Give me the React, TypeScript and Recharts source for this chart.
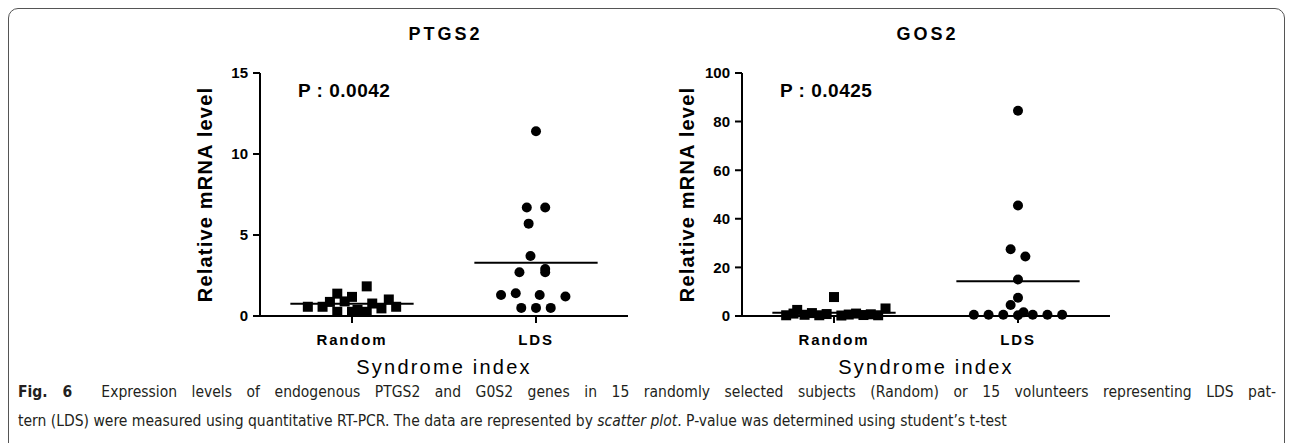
import React from "react"
import {
  ComposedChart,
  Scatter,
  Line,
  XAxis,
  YAxis,
} from "recharts"

// categories on the x axis
const groups = ["Random", "LDS"]

// PTGS2 values (relative mRNA level) and the scatter spread within each column
const ptgsRandom = [0.57, 0.57, 0.87, 1.38, 0.26, 0.9, 1.18, 0.26, 0.37, 1.83, 0.26, 0.77, 0.47, 1.02, 0.57]
const ptgsRandomSpread = [-0.24, -0.16, -0.12, -0.08, -0.08, -0.04, 0, 0, 0.03, 0.08, 0.08, 0.11, 0.16, 0.2, 0.24]
const ptgsLds = [11.4, 6.7, 6.7, 5.7, 3.7, 2.7, 2.9, 2.7, 1.4, 1.3, 1.3, 1.2, 0.5, 0.5, 0.5]
const ptgsLdsSpread = [0, -0.05, 0.05, -0.04, -0.03, -0.09, 0.05, 0.05, -0.11, -0.19, 0.02, 0.16, -0.08, 0, 0.08]
const ptgsTicks = [0, 5, 10, 15]

// GOS2 values
const gosRandom = [7.8, 3.1, 2.5, 0.3, 1.0, 0.5, 1.2, 0.3, 0.8, 0.2, 0.6, 1.0, 0.4, 0.7, 0.3]
const gosRandomSpread = [0, 0.28, -0.2, -0.26, -0.22, -0.16, -0.12, -0.08, -0.04, 0.04, 0.08, 0.12, 0.16, 0.2, 0.24]
const gosLds = [84.5, 45.5, 27.5, 24.5, 15, 7.5, 4.5, 1.5, 0.5, 0.5, 0.5, 0.3, 0.5, 0.5, 0.5]
const gosLdsSpread = [0, 0, -0.04, 0.04, 0, 0, -0.04, 0.03, -0.24, -0.16, -0.08, 0, 0.08, 0.16, 0.24]
const gosTicks = [0, 20, 40, 60, 80, 100]

const FONT = "'Liberation Sans', Arial, sans-serif"

type Pt = { x: number; y: number }

const toPoints = (vals: number[], spread: number[], group: number): Pt[] =>
  vals.map((v, i) => ({ x: group + 0.5 + spread[i], y: v }))

const meanLine = (vals: number[], group: number): Pt[] => {
  const m = vals.reduce((a, b) => a + b, 0) / vals.length
  return [
    { x: group + 0.5 - 0.335, y: m },
    { x: group + 0.5 + 0.335, y: m },
  ]
}

const SquareDot = (p: any) => (
  <rect x={p.cx - 5} y={p.cy - 5} width={10} height={10} fill="#000" />
)
const RoundDot = (p: any) => <circle cx={p.cx} cy={p.cy} r={5} fill="#000" />

type PanelProps = {
  left: number
  title: string
  pText: string
  ticks: number[]
  randomVals: number[]
  randomSpread: number[]
  ldsVals: number[]
  ldsSpread: number[]
}

function Panel({ left, title, pText, ticks, randomVals, randomSpread, ldsVals, ldsSpread }: PanelProps) {
  const yMax = ticks[ticks.length - 1]
  return (
    <div style={{ position: "absolute", left, top: 0, width: 500, height: 392 }}>
      <div
        style={{
          position: "absolute",
          left: 0,
          width: 573,
          top: 15,
          textAlign: "center",
          fontFamily: FONT,
          fontWeight: 700,
          fontSize: 18,
          letterSpacing: 3,
          color: "#000",
        }}
      >
        {title}
      </div>
      <div
        style={{
          position: "absolute",
          left: 139,
          top: 71,
          fontFamily: FONT,
          fontWeight: 700,
          fontSize: 19,
          letterSpacing: 0.5,
          color: "#000",
          whiteSpace: "nowrap",
        }}
      >
        {pText}
      </div>
      <div style={{ position: "absolute", left: 0, top: 12 }}>
        <ComposedChart width={500} height={380} margin={{ top: 52, right: 31, bottom: 0, left: 0 }}>
          <XAxis
            type="number"
            dataKey="x"
            domain={[0, 2]}
            ticks={[0.5, 1.5]}
            tickFormatter={(v: number) => groups[Math.floor(v)]}
            height={85}
            tickSize={7}
            tickMargin={11}
            axisLine={{ stroke: "#000", strokeWidth: 2 }}
            tickLine={{ stroke: "#000", strokeWidth: 2 }}
            tick={{ fill: "#000", fontSize: 15, fontWeight: 700, fontFamily: FONT, letterSpacing: 1.8 }}
            label={{
              content: (props: any) => {
                const vb = props.viewBox
                return (
                  <text
                    x={vb.x + vb.width / 2}
                    y={vb.y + 53}
                    textAnchor="middle"
                    dominantBaseline="middle"
                    fill="#000"
                    fontSize={20}
                    fontFamily={FONT}
                    letterSpacing={2.2}
                  >
                    Syndrome index
                  </text>
                )
              },
            }}
          />
          <YAxis
            type="number"
            dataKey="y"
            domain={[0, yMax]}
            ticks={ticks}
            width={101}
            tickSize={7}
            tickMargin={5}
            interval={0}
            axisLine={{ stroke: "#000", strokeWidth: 2 }}
            tickLine={{ stroke: "#000", strokeWidth: 2 }}
            tick={{ fill: "#000", fontSize: 15, fontWeight: 700, fontFamily: FONT }}
            label={{
              content: (props: any) => {
                const vb = props.viewBox
                const cx = vb.x + 48
                const cy = vb.y + vb.height / 2
                return (
                  <text
                    x={cx}
                    y={cy}
                    transform={`rotate(-90, ${cx}, ${cy})`}
                    textAnchor="middle"
                    dominantBaseline="middle"
                    fill="#000"
                    fontSize={20}
                    fontWeight={700}
                    fontFamily={FONT}
                    letterSpacing={1.2}
                  >
                    Relative mRNA level
                  </text>
                )
              },
            }}
          />
          <Scatter
            data={toPoints(randomVals, randomSpread, 0)}
            dataKey="y"
            shape={SquareDot}
            isAnimationActive={false}
          />
          <Scatter
            data={toPoints(ldsVals, ldsSpread, 1)}
            dataKey="y"
            shape={RoundDot}
            isAnimationActive={false}
          />
          <Line
            data={meanLine(randomVals, 0)}
            dataKey="y"
            type="linear"
            stroke="#000"
            strokeWidth={2}
            dot={false}
            activeDot={false}
            isAnimationActive={false}
          />
          <Line
            data={meanLine(ldsVals, 1)}
            dataKey="y"
            type="linear"
            stroke="#000"
            strokeWidth={2}
            dot={false}
            activeDot={false}
            isAnimationActive={false}
          />
        </ComposedChart>
      </div>
    </div>
  )
}

export default function App() {
  const captionFont = "'Liberation Sans Narrow', 'DejaVu Sans Condensed', 'Noto Sans', sans-serif"
  return (
    <div
      style={{
        position: "relative",
        width: 1277,
        height: 445,
        boxSizing: "border-box",
        border: "1px solid #555",
        borderRadius: 10,
        overflow: "hidden",
        background: "#fff",
      }}
    >
      <Panel
        left={150}
        title="PTGS2"
        pText="P : 0.0042"
        ticks={ptgsTicks}
        randomVals={ptgsRandom}
        randomSpread={ptgsRandomSpread}
        ldsVals={ptgsLds}
        ldsSpread={ptgsLdsSpread}
      />
      <Panel
        left={632}
        title="GOS2"
        pText="P : 0.0425"
        ticks={gosTicks}
        randomVals={gosRandom}
        randomSpread={gosRandomSpread}
        ldsVals={gosLds}
        ldsSpread={gosLdsSpread}
      />
      <div
        style={{
          position: "absolute",
          left: 9,
          width: 1258,
          top: 369,
          fontFamily: captionFont,
          fontSize: 15.5,
          color: "#231f20",
          lineHeight: "29px",
        }}
      >
        <div style={{ whiteSpace: "nowrap", textAlign: "justify", textAlignLast: "justify" } as React.CSSProperties}>
          <b>Fig. 6</b>&nbsp; Expression levels of endogenous PTGS2 and G0S2 genes in 15 randomly selected subjects (Random) or 15 volunteers representing LDS pat-
        </div>
        <div style={{ whiteSpace: "nowrap" }}>
          tern (LDS) were measured using quantitative RT-PCR. The data are represented by <i>scatter plot</i>. P-value was determined using student’s t-test
        </div>
      </div>
    </div>
  )
}
